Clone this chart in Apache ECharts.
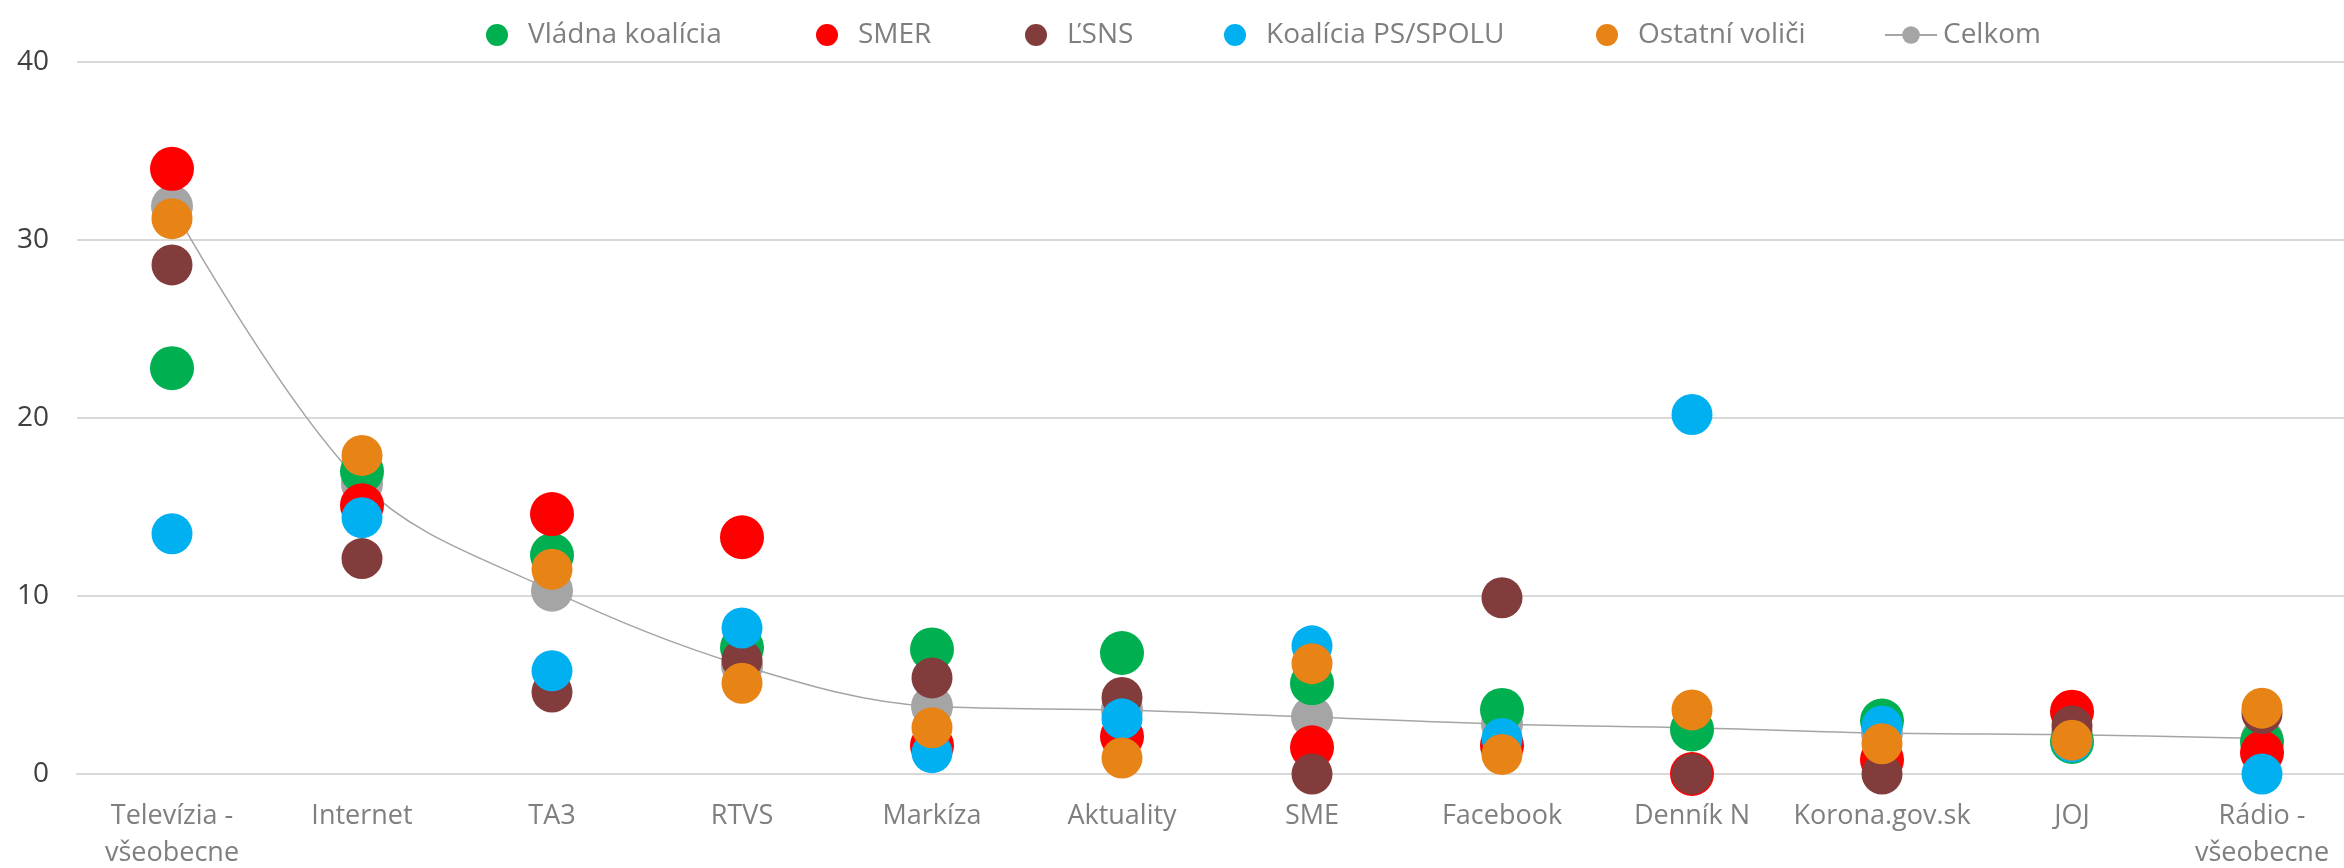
<!DOCTYPE html>
<html>
<head>
<meta charset="utf-8">
<script src="https://cdn.jsdelivr.net/npm/echarts@6/dist/echarts.min.js"></script>
<style>
  html, body { margin: 0; padding: 0; background: #fff; }
  #chart { width: 2344px; height: 868px; }
</style>
</head>
<body>
<div id="chart"></div>
<script>
// categories (media sources)
const categories = ['Televízia - všeobecne', 'Internet', 'TA3', 'RTVS', 'Markíza', 'Aktuality',
  'SME', 'Facebook', 'Denník N', 'Korona.gov.sk', 'JOJ', 'Rádio - všeobecne'];

// values per voter group
const vladnaKoalicia = [22.8, 17.0, 12.3, 7.1, 7.0, 6.8, 5.1, 3.6, 2.5, 3.0, 1.8, 1.8];
const smer = [34.0, 15.1, 14.6, 13.3, 1.6, 2.1, 1.5, 1.6, 0.0, 0.8, 3.5, 1.2];
const lsns = [28.6, 12.1, 4.6, 6.4, 5.4, 4.3, 0.0, 9.9, 0.0, 0.0, 2.7, 3.4];
const koaliciaPsSpolu = [13.5, 14.4, 5.8, 8.2, 1.2, 3.1, 7.2, 2.0, 20.2, 2.7, 1.8, 0.0];
const ostatniVolici = [31.2, 17.9, 11.5, 5.1, 2.6, 0.9, 6.2, 1.1, 3.6, 1.7, 1.9, 3.7];
const celkom = [31.9, 16.3, 10.3, 6.1, 3.8, 3.6, 3.2, 2.8, 2.6, 2.3, 2.2, 2.0];

const yTicks = [0, 10, 20, 30, 40];

const FONT = '"Open Sans", sans-serif';

const chart = echarts.init(document.getElementById('chart'));

function dots(name, data, color, size) {
  return {
    name: name,
    type: 'scatter',
    data: data,
    z: 3,
    symbol: 'circle',
    symbolSize: size,
    itemStyle: { color: color, opacity: 1 },
    emphasis: { disabled: true }
  };
}

// one legend per item so each sits where the original put it
function legendItem(name, left, width) {
  return {
    data: [name],
    left: left,
    top: 16,
    itemWidth: width,
    itemHeight: 22,
    textStyle: { fontFamily: FONT, fontSize: 28, color: '#7f7f7f', padding: [0, 0, 0, width > 30 ? 1 : 15] }
  };
}

chart.setOption({
  animation: false,
  backgroundColor: '#ffffff',
  textStyle: { fontFamily: FONT },
  legend: [
    legendItem('Vládna koalícia', 481, 22),
    legendItem('SMER', 811, 22),
    legendItem('ĽSNS', 1020, 22),
    legendItem('Koalícia PS/SPOLU', 1219, 22),
    legendItem('Ostatní voliči', 1591, 22),
    legendItem('Celkom', 1879, 52)
  ],
  grid: { left: 77, top: 62, width: 2280, bottom: 94, outerBoundsMode: 'none', containLabel: false },
  xAxis: {
    type: 'category',
    data: categories,
    boundaryGap: true,
    axisLine: { show: true, lineStyle: { color: '#d9d9d9', width: 2 } },
    axisTick: { show: false },
    axisLabel: {
      interval: 0,
      margin: 24,
      fontSize: 27,
      lineHeight: 37,
      color: '#7f7f7f',
      fontFamily: FONT,
      formatter: v => v.replace(' - ', ' -\n')
    }
  },
  yAxis: {
    type: 'value',
    min: yTicks[0],
    max: yTicks[yTicks.length - 1],
    interval: 10,
    axisLine: { show: false },
    axisTick: { show: false },
    axisLabel: { fontSize: 28, color: '#404040', fontFamily: FONT, margin: 28 },
    splitLine: { lineStyle: { color: '#d9d9d9', width: 2 } }
  },
  series: [
    {
      name: 'Celkom',
      type: 'line',
      data: celkom,
      z: 1,
      smooth: 0.35,
      symbol: 'circle',
      symbolSize: 42,
      showAllSymbol: true,
      lineStyle: { color: '#a5a5a5', width: 1.5 },
      itemStyle: { color: '#a5a5a5' },
      emphasis: { disabled: true }
    },
    dots('Vládna koalícia', vladnaKoalicia, '#00b050', 44),
    dots('SMER', smer, '#ff0000', 44),
    dots('ĽSNS', lsns, '#833c3c', 41),
    dots('Koalícia PS/SPOLU', koaliciaPsSpolu, '#00b0f0', 41),
    dots('Ostatní voliči', ostatniVolici, '#e88316', 41)
  ]
});
</script>
</body>
</html>
